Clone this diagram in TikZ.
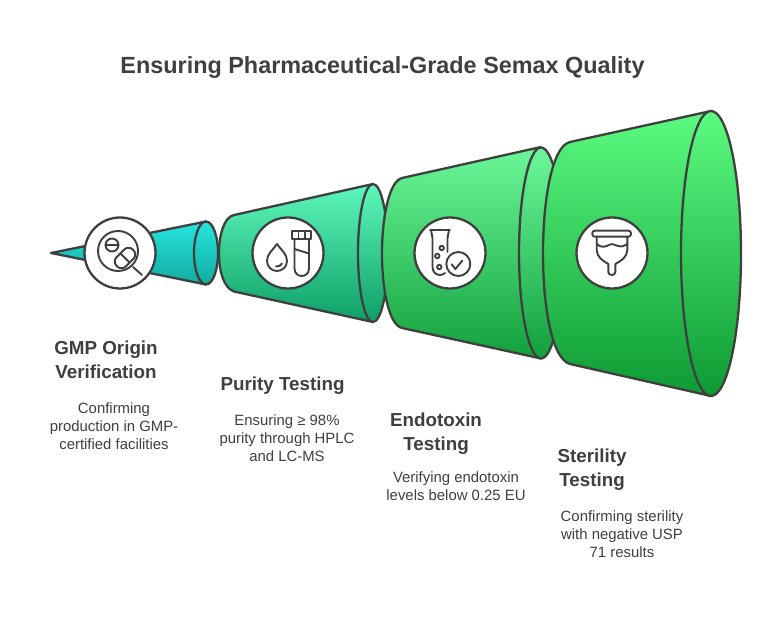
\documentclass[tikz,border=0pt]{standalone}
\usepackage{fontspec}
\setmainfont{Liberation Sans}
\usetikzlibrary{positioning}
\definecolor{ink}{HTML}{3F3F3F}
\definecolor{topA}{HTML}{25E5DC}
\definecolor{botA}{HTML}{12ABA0}
\definecolor{topB}{HTML}{5EF8BB}
\definecolor{botB}{HTML}{0E9F66}
\definecolor{topC}{HTML}{6CF89A}
\definecolor{botC}{HTML}{12A03C}
\definecolor{topD}{HTML}{5BFB80}
\definecolor{botD}{HTML}{0D9A33}

\begin{document}
\begin{tikzpicture}
[x=1pt,y=-1pt,
 title/.style={text=ink,font=\bfseries\fontsize{23.4}{28}\selectfont},
 head/.style={text=ink,align=center,font=\bfseries\fontsize{18.8}{24}\selectfont},
 note/.style={text=ink,align=center,font=\fontsize{14.9}{18}\selectfont},
 stage/.style={draw=ink,line width=2.3pt,line join=round},
 disc/.style={circle,draw=ink,fill=white,line width=2.3pt,minimum size=71pt,inner sep=0pt,outer sep=0pt},
 icon/.style={draw=ink,line width=1.9pt,line cap=round,line join=round},
 stageA/.style={stage,top color=topA,bottom color=botA},
 stageB/.style={stage,top color=topB,bottom color=botB},
 stageC/.style={stage,top color=topC,bottom color=botC},
 stageD/.style={stage,top color=topD,bottom color=botD}]
\useasboundingbox (0,0) rectangle (765,636);
\node[title] (main) at (382.5,68) {Ensuring Pharmaceutical-Grade Semax Quality};
% cones
\path[stageA] (206,221.5) -- (51,253) -- (206,284.5);
\path[stageA] (206,253) ellipse [x radius=12,y radius=31.5];
\path[stageB] (373,184) -- (234,215) .. controls (224,217) and (219,235) .. (219,253) .. controls (219,272) and (224,288) .. (234,291.5) -- (373,322);
\path[stageB] (373,253) ellipse [x radius=15,y radius=69];
\path[stageC] (541,147) -- (402,178) .. controls (389,181) and (382,218) .. (382,253) .. controls (382,290) and (389,325) .. (402,328) -- (541,358.5);
\path[stageC] (541,253) ellipse [x radius=22,y radius=105.5];
\path[stageD] (711,111) -- (570,142) .. controls (552,146) and (543,200) .. (543,253) .. controls (543,308) and (552,359) .. (570,364) -- (711,396);
\path[stageD] (711,253.5) ellipse [x radius=30,y radius=142.5];
% discs
\node[disc] (verify) at (120,253) {};
\node[disc] (purity) [on grid,right=168pt of verify] {};
\node[disc] (endo)   [on grid,right=162pt of purity] {};
\node[disc] (steril) [on grid,right=162pt of endo]   {};
% icon in verify
\draw[icon] (118,251) circle [radius=20];
\draw[icon] (133,267) -- (142,275);
\draw[icon] (112,245) circle [radius=6.5];
\draw[icon] (105.5,245) -- (118.5,245);
\draw[icon,rounded corners=6pt,rotate around={45:(125,258)}] (113.5,251.5) rectangle (136.5,264.5);
\draw[icon] (120.5,253.5) -- (129.5,262.5);
% icon in purity
\draw[icon] (277,244) .. controls (272,251) and (267,254) .. (267,261) .. controls (267,267) and (272,271) .. (277,271) .. controls (282,271) and (287,267) .. (287,261) .. controls (287,254) and (282,251) .. (277,244);
\draw[icon] (276,266.5) .. controls (279,266.5) and (281,265.5) .. (282,263.5);
\draw[icon] (292,231) rectangle (311,239);
\draw[icon] (298.5,231) -- (298.5,239);
\draw[icon] (305,231) -- (305,239);
\draw[icon] (294.5,239) -- (294.5,268.5) .. controls (294.5,278.5) and (309,278.5) .. (309,268.5) -- (309,239);
\draw[icon] (294.5,249) -- (309,253.5);
% icon in endo
\draw[icon] (430,230) -- (450,230);
\draw[icon] (431,230) -- (432.5,238) -- (432.5,267) .. controls (432.5,272) and (436,275) .. (440,275) .. controls (442,275) and (444,274) .. (445,273);
\draw[icon] (449,230) -- (447.5,238) -- (447.5,252);
\draw[icon] (441.7,248) circle [radius=2.2];
\draw[icon] (437.3,256) circle [radius=2.2];
\draw[icon] (439.3,267) circle [radius=2.2];
\draw[icon] (458.3,264) circle [radius=12];
\draw[icon] (451.7,264.3) -- (455.3,269) -- (462.3,260.7);
% icon in steril
\draw[icon,rounded corners=2.5pt] (592.3,230.7) rectangle (631,236.7);
\draw[icon] (596.7,236.7) -- (596.7,250) .. controls (596.7,257) and (603,261) .. (608.3,264) -- (608.3,272) .. controls (608.3,276) and (615.3,276) .. (615.3,272) -- (615.3,264) .. controls (621,261) and (627.3,257) .. (627.3,250) -- (627.3,236.7);
\draw[icon] (596.7,244) .. controls (601,248) and (605,247) .. (609,245) .. controls (612,243) and (615,245) .. (618,246) .. controls (622,247) and (625,246) .. (627.3,244);
% labels
\node[head] (verifyhead) at (106,360) {GMP Origin\\Verification};
\node[note] (verifynote) at (114,426) {Confirming\\production in GMP-\\certified facilities};
\node[head] (purityhead) at (282.5,386) {Purity Testing};
\node[note] (puritynote) at (287,438) {Ensuring ≥ 98\%\\purity through HPLC\\and LC-MS};
\node[head] (endohead)   at (436,434) {Endotoxin\\Testing};
\node[note] (endonote)   at (456,486) {Verifying endotoxin\\levels below 0.25 EU};
\node[head] (sterilhead) at (592,470) {Sterility\\Testing};
\node[note] (sterilnote) at (622,534) {Confirming sterility\\with negative USP\\71 results};
\end{tikzpicture}
\end{document}
